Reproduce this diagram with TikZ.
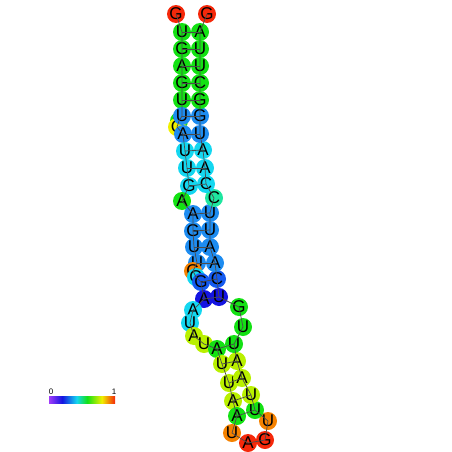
\documentclass[tikz,border=0pt]{standalone}
\usepackage{fontspec}
\setmainfont{Liberation Sans}
\usepackage{tikz}
\usetikzlibrary{calc}
\definecolor{cred}{RGB}{245,40,10}
\definecolor{corange}{RGB}{245,130,0}
\definecolor{cgreen}{RGB}{20,225,20}
\definecolor{clime}{RGB}{185,240,0}
\definecolor{cyellow}{RGB}{240,240,0}
\definecolor{ccyan}{RGB}{20,215,240}
\definecolor{cteal}{RGB}{30,230,160}
\definecolor{cblue}{RGB}{30,140,240}
\definecolor{cmblue}{RGB}{20,90,240}
\definecolor{cdblue}{RGB}{20,20,225}
\definecolor{cviolet}{RGB}{160,60,250}
\pgfdeclarehorizontalshading{rainbow}{100bp}{color(0bp)=(cviolet); color(25bp)=(cviolet); color(35bp)=(cdblue); color(46bp)=(ccyan); color(54bp)=(cgreen); color(65bp)=(cyellow); color(75bp)=(cred); color(100bp)=(cred)}
\tikzset{
nuc/.style={circle, inner sep=0pt, minimum size=18pt, font=\fontsize{17}{17}\selectfont},
bond/.style={draw=black!70, line width=0.7pt},
}

\begin{document}
\begin{tikzpicture}[x=1pt,y=-1pt]
  \useasboundingbox (0,0) rectangle (452,452);
  % nucleotides
  \node[nuc, fill=cred]    (n1)  at (176,14)  {G};
  \node[nuc, fill=cgreen]  (n2)  at (182,32)  {U};
  \node[nuc, fill=cgreen]  (n3)  at (182,49)  {G};
  \node[nuc, fill=cgreen]  (n4)  at (182,66)  {A};
  \node[nuc, fill=cgreen]  (n5)  at (182,83)  {G};
  \node[nuc, fill=cgreen]  (n6)  at (182,100) {U};
  \node[nuc, fill=cgreen]  (n8)  at (179,121) {G};
  \node[nuc, fill=cyellow] (n9)  at (177,127) {C};
  \node[nuc, fill=cblue]   (n7)  at (182,116) {U};
  \node[nuc, fill=cblue]   (n10) at (183,134) {A};
  \node[nuc, fill=ccyan]   (n11) at (185,151) {U};
  \node[nuc, fill=ccyan]   (n12) at (187,168) {U};
  \node[nuc, fill=ccyan]   (n13) at (189,186) {G};
  \node[nuc, fill=cgreen]  (n14) at (182,201) {A};
  \node[nuc, fill=cblue]   (n15) at (193,214) {A};
  \node[nuc, fill=cblue]   (n16) at (193,231) {G};
  \node[nuc, fill=cblue]   (n17) at (194,247) {U};
  \node[nuc, fill=cblue]   (n18) at (197,263) {U};
  \node[nuc, fill=corange] (n19) at (193,271) {G};
  \node[nuc, fill=ccyan]   (n20) at (196,277) {G};
  \node[nuc, fill=cmblue]  (n21) at (201,282) {G};
  \node[nuc, fill=cdblue]  (n22) at (204,299) {A};
  \node[nuc, fill=ccyan]   (n23) at (193,310) {A};
  \node[nuc, fill=ccyan]   (n24) at (190,323) {U};
  \node[nuc, fill=clime]   (n25) at (194,336) {A};
  \node[nuc, fill=clime]   (n26) at (204,344) {U};
  \node[nuc, fill=cgreen]  (n27) at (217,349) {A};
  \node[nuc, fill=clime]   (n28) at (222,364) {U};
  \node[nuc, fill=clime]   (n29) at (229,383) {U};
  \node[nuc, fill=clime]   (n30) at (233,401) {A};
  \node[nuc, fill=cgreen]  (n31) at (237,416) {A};
  \node[nuc, fill=corange] (n32) at (232,433) {U};
  \node[nuc, fill=cred]    (n33) at (248,443) {A};
  \node[nuc, fill=cred]    (n34) at (265,440) {G};
  \node[nuc, fill=corange] (n35) at (268,421) {U};
  \node[nuc, fill=cgreen]  (n36) at (255,410) {U};
  \node[nuc, fill=clime]   (n37) at (251,395) {U};
  \node[nuc, fill=clime]   (n38) at (242,378) {A};
  \node[nuc, fill=clime]   (n39) at (237,361) {A};
  \node[nuc, fill=cgreen]  (n40) at (234,344) {U};
  \node[nuc, fill=cgreen]  (n41) at (243,327) {U};
  \node[nuc, fill=cgreen]  (n42) at (239,307) {G};
  \node[nuc, fill=cdblue]  (n43) at (219,297) {U};
  \node[nuc, fill=cmblue]  (n44) at (217,279) {C};
  \node[nuc, fill=cblue]   (n45) at (215,263) {A};
  \node[nuc, fill=cblue]   (n46) at (210,247) {A};
  \node[nuc, fill=cblue]   (n47) at (210,230) {U};
  \node[nuc, fill=cblue]   (n48) at (210,213) {U};
  \node[nuc, fill=cteal]   (n49) at (214,198) {C};
  \node[nuc, fill=ccyan]   (n50) at (206,184) {C};
  \node[nuc, fill=ccyan]   (n51) at (205,168) {A};
  \node[nuc, fill=ccyan]   (n52) at (203,150) {A};
  \node[nuc, fill=cblue]   (n53) at (200,134) {U};
  \node[nuc, fill=cblue]   (n54) at (200,116) {G};
  \node[nuc, fill=cgreen]  (n55) at (200,100) {G};
  \node[nuc, fill=cgreen]  (n56) at (200,83)  {C};
  \node[nuc, fill=cgreen]  (n57) at (200,66)  {U};
  \node[nuc, fill=cgreen]  (n58) at (200,49)  {U};
  \node[nuc, fill=cgreen]  (n59) at (200,32)  {A};
  \node[nuc, fill=cred]    (n60) at (207,14)  {G};

  % backbone
  \draw[bond] (n1.center) -- (n2.center) -- (n3.center) -- (n4.center) -- (n5.center)
    -- (n6.center) -- (n7.center) -- (n8.center) -- (n9.center) -- (n10.center)
    -- (n11.center) -- (n12.center) -- (n13.center) -- (n14.center) -- (n15.center)
    -- (n16.center) -- (n17.center) -- (n18.center) -- (n19.center) -- (n20.center)
    -- (n21.center) -- (n22.center) -- (n23.center) -- (n24.center) -- (n25.center)
    -- (n26.center) -- (n27.center) -- (n28.center) -- (n29.center) -- (n30.center)
    -- (n31.center) -- (n32.center) -- (n33.center) -- (n34.center) -- (n35.center)
    -- (n36.center) -- (n37.center) -- (n38.center) -- (n39.center) -- (n40.center)
    -- (n41.center) -- (n42.center) -- (n43.center) -- (n44.center) -- (n45.center)
    -- (n46.center) -- (n47.center) -- (n48.center) -- (n49.center) -- (n50.center)
    -- (n51.center) -- (n52.center) -- (n53.center) -- (n54.center) -- (n55.center)
    -- (n56.center) -- (n57.center) -- (n58.center) -- (n59.center) -- (n60.center);

  % base pairs
  \draw[bond] (n2.center) -- (n59.center);
  \draw[bond] (n3.center) -- (n58.center);
  \draw[bond] (n4.center) -- (n57.center);
  \draw[bond] (n5.center) -- (n56.center);
  \draw[bond] (n6.center) -- (n55.center);
  \draw[bond] (n7.center) -- (n54.center);
  \draw[bond] (n10.center) -- (n53.center);
  \draw[bond] (n11.center) -- (n52.center);
  \draw[bond] (n12.center) -- (n51.center);
  \draw[bond] (n13.center) -- (n50.center);
  \draw[bond] (n15.center) -- (n48.center);
  \draw[bond] (n16.center) -- (n47.center);
  \draw[bond] (n17.center) -- (n46.center);
  \draw[bond] (n18.center) -- (n45.center);
  \draw[bond] (n21.center) -- (n44.center);
  \draw[bond] (n22.center) -- (n43.center);
  \draw[bond] (n27.center) -- (n40.center);
  \draw[bond] (n28.center) -- (n39.center);
  \draw[bond] (n29.center) -- (n38.center);
  \draw[bond] (n30.center) -- (n37.center);
  \draw[bond] (n31.center) -- (n36.center);

  % colour scale
  \shade[shading=rainbow] (49,396) rectangle (115,403);
  \node[font=\fontsize{8}{8}\selectfont] (lo) at (51,392) {0};
  \node[font=\fontsize{8}{8}\selectfont] (hi) at (114,392) {1};
\end{tikzpicture}
\end{document}
